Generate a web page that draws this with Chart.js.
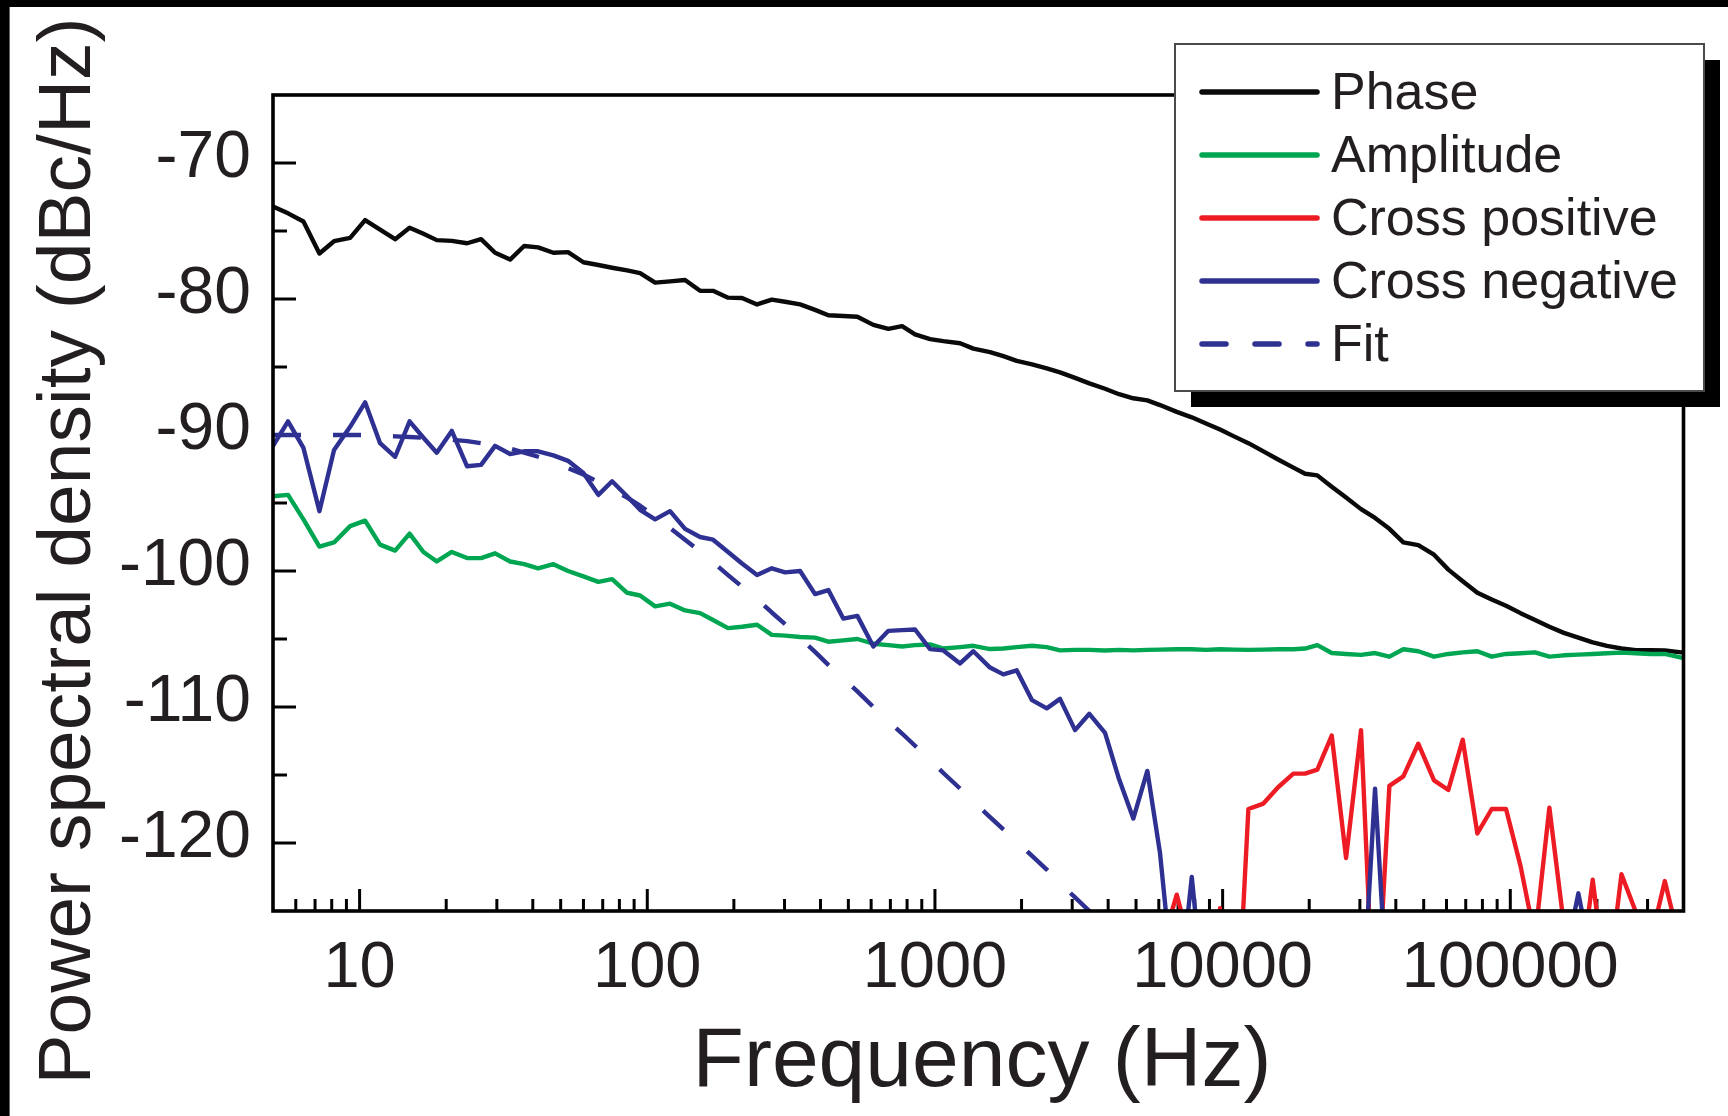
<!DOCTYPE html>
<html>
<head>
<meta charset="utf-8">
<title>Power spectral density</title>
<script src="https://cdn.jsdelivr.net/npm/chart.js@4.4.1/dist/chart.umd.min.js"></script>
<style>
  html, body { margin: 0; padding: 0; background: #fff; }
  canvas { display: block; }
</style>
</head>
<body>
<canvas id="psd" width="1728" height="1116"></canvas>
<script>
// Frequency grid (Hz), shared by all traces
const freqHz = [
  5, 5.64, 6.38, 7.25, 8.15, 9.27, 10.45, 11.78, 13.29, 14.92,
  16.67, 18.55, 20.91, 23.64, 26.44, 29.58, 33.36, 37.31, 41.74, 47.16,
  53.03, 59.96, 67.6, 75.46, 85.1, 94.4, 106.5, 120, 135.3, 152.6,
  169.3, 190.9, 213.5, 240.8, 270.9, 301.3, 339.8, 383, 426, 480.1,
  537.4, 610.8, 688.9, 768.6, 852.7, 961.6, 1069.6, 1223, 1360, 1554,
  1729, 1924, 2175, 2447, 2721, 3069, 3441, 3902, 4364, 4892,
  5473, 6059, 6926, 7811, 8755, 9795, 10955, 12290, 13860, 15590,
  17620, 19350, 21340, 23950, 26860, 30280, 33870, 37990, 42480, 47870,
  54300, 60900, 68340, 76830, 86180, 96640, 108550, 121900, 136700, 153500,
  172400, 193400, 216800, 243500, 273400, 306900, 344400, 400000
];

// Phase noise PSD (dBc/Hz)
const phaseDb = [
  -73.2, -73.7, -74.3, -76.65, -75.75, -75.5, -74.2, -74.9, -75.6, -74.76,
  -75.2, -75.67, -75.73, -75.9, -75.6, -76.6, -77.1, -76.1, -76.2, -76.6,
  -76.55, -77.3, -77.5, -77.7, -77.9, -78.1, -78.8, -78.7, -78.6, -79.4,
  -79.4, -79.9, -79.93, -80.4, -80.05, -80.2, -80.4, -80.8, -81.2, -81.25,
  -81.3, -81.9, -82.2, -82.0, -82.6, -82.95, -83.1, -83.25, -83.65, -83.9,
  -84.2, -84.55, -84.8, -85.1, -85.4, -85.8, -86.2, -86.6, -87.0, -87.3,
  -87.45, -87.8, -88.3, -88.7, -89.15, -89.6, -90.1, -90.6, -91.2, -91.8,
  -92.4, -92.85, -92.97, -93.8, -94.6, -95.45, -96.1, -96.9, -97.9, -98.1,
  -98.8, -99.9, -100.75, -101.6, -102.1, -102.55, -103.1, -103.6, -104.1, -104.55,
  -104.9, -105.25, -105.5, -105.7, -105.83, -105.83, -105.85, -106.0
];

// Amplitude noise PSD (dBc/Hz)
const amplitudeDb = [
  -94.5, -94.4, -96.2, -98.2, -97.9, -96.7, -96.3, -98.06, -98.5, -97.25,
  -98.6, -99.3, -98.6, -99.05, -99.05, -98.7, -99.3, -99.5, -99.8, -99.5,
  -100.0, -100.4, -100.8, -100.6, -101.6, -101.8, -102.6, -102.4, -102.9, -103.1,
  -103.6, -104.2, -104.1, -103.95, -104.7, -104.75, -104.85, -104.9, -105.2, -105.1,
  -105.0, -105.35, -105.45, -105.55, -105.45, -105.4, -105.7, -105.6, -105.5, -105.74,
  -105.7, -105.6, -105.5, -105.6, -105.84, -105.8, -105.8, -105.85, -105.8, -105.84,
  -105.8, -105.78, -105.75, -105.75, -105.8, -105.75, -105.78, -105.8, -105.78, -105.75,
  -105.75, -105.7, -105.45, -106.03, -106.1, -106.17, -106.03, -106.3, -105.75, -105.9,
  -106.3, -106.1, -105.98, -105.9, -106.3, -106.1, -106.05, -105.98, -106.3, -106.2,
  -106.15, -106.1, -106.05, -106.0, -106.05, -106.1, -106.1, -106.4
];

// Positive part of the cross spectrum (dBc/Hz); values below -125 fall off the axis
const crossPositiveDb = [
  -135, -135, -135, -135, -135, -135, -135, -135, -135, -135,
  -135, -135, -135, -135, -135, -135, -135, -135, -135, -135,
  -135, -135, -135, -135, -135, -135, -135, -135, -135, -135,
  -135, -135, -135, -135, -135, -135, -135, -135, -135, -135,
  -135, -135, -135, -135, -135, -135, -135, -135, -135, -135,
  -135, -135, -135, -135, -135, -135, -135, -135, -135, -135,
  -135, -128, -123.8, -128, -135, -124.8, -138, -117.5, -117.1, -115.9,
  -114.9, -114.9, -114.6, -112.1, -121.1, -111.7, -135, -115.8, -115.1, -112.7,
  -115.4, -116.1, -112.4, -119.3, -117.5, -117.5, -121.7, -127, -117.4, -126,
  -131, -122.7, -131, -122.3, -125.1, -127.3, -122.8, -128.5
];

// Negative part of the cross spectrum (dBc/Hz)
const crossNegativeDb = [
  -90.8, -89.0, -90.95, -95.6, -91.1, -89.4, -87.6, -90.6, -91.6, -89.0,
  -90.2, -91.3, -89.7, -92.3, -92.2, -90.8, -91.4, -91.2, -91.2, -91.5,
  -91.9, -92.8, -94.4, -93.4, -94.5, -95.5, -96.2, -95.6, -96.9, -97.5,
  -97.7, -98.6, -99.45, -100.3, -99.8, -100.1, -100.0, -101.7, -101.4, -103.5,
  -103.3, -105.55, -104.4, -104.35, -104.3, -105.74, -105.84, -106.8, -105.9, -107.1,
  -107.6, -107.3, -109.5, -110.1, -109.4, -111.7, -110.5, -111.9, -115.3, -118.2,
  -114.7, -120.75, -133, -122.5, -133, -135, -135, -135, -135, -135,
  -135, -135, -135, -135, -135, -134, -116.0, -134, -135, -135,
  -135, -135, -135, -135, -135, -135, -135, -135, -135, -129,
  -123.7, -129, -135, -135, -135, -135, -135, -135
];

// Single-pole fit to the negative cross spectrum (dBc/Hz)
const fitDb = [
  -90.0, -90.0, -90.0, -90.0, -90.0, -90.0, -90.0, -90.05, -90.1, -90.15,
  -90.2, -90.25, -90.35, -90.45, -90.6, -90.75, -91.0, -91.3, -91.6, -91.95,
  -92.45, -92.9, -93.45, -94.0, -94.6, -95.2, -96.0, -96.85, -97.7, -98.55,
  -99.35, -100.3, -101.15, -102.05, -103.05, -103.9, -104.95, -105.95, -106.9, -107.9,
  -108.85, -110.0, -111.05, -111.95, -112.85, -113.9, -114.85, -116.0, -116.95, -118.1,
  -119.0, -119.9, -120.95, -121.95, -122.95, -124.0, -125.0, -126.1, null, null,
  null, null, null, null, null, null, null, null, null, null,
  null, null, null, null, null, null, null, null, null, null,
  null, null, null, null, null, null, null, null, null, null,
  null, null, null, null, null, null, null, null
];

const xTickValues = [10, 100, 1000, 10000, 100000];
const xTickLabels = ['10', '100', '1000', '10000', '100000'];
const yTickValues = [-120, -110, -100, -90, -80, -70];
const yTickLabels = ['-120', '-110', '-100', '-90', '-80', '-70'];
const seriesNames = ['Phase', 'Amplitude', 'Cross positive', 'Cross negative', 'Fit'];

const FONT = "'Liberation Sans', Arial, Helvetica, sans-serif";
const INK = '#231f20';

const toPoints = (vals) => freqHz.map((f, i) => ({ x: f, y: vals[i] }));

// Background, black edge bands, inward ticks, box frame, legend and axis titles
const decorations = {
  id: 'decorations',
  beforeDraw(chart) {
    const c = chart.ctx;
    c.save();
    c.fillStyle = '#ffffff';
    c.fillRect(0, 0, chart.width, chart.height);
    c.fillStyle = '#000000';
    c.fillRect(0, 0, chart.width, 7);
    c.fillRect(0, 0, 9.6, chart.height);
    c.restore();
  },
  beforeDatasetsDraw(chart) {
    const { ctx: c, chartArea: a, scales: { x, y } } = chart;
    c.save();
    c.strokeStyle = '#000';
    c.lineWidth = 3;
    c.lineCap = 'butt';
    for (let e = 0; e <= 5; e++) {
      for (let m = 1; m <= 9; m++) {
        const v = m * Math.pow(10, e);
        if (v <= x.min * 1.001 || v >= x.max * 0.999) continue;
        const px = x.getPixelForValue(v);
        const len = m === 1 ? 22 : 12;
        c.beginPath();
        c.moveTo(px, a.bottom);
        c.lineTo(px, a.bottom - len);
        c.stroke();
      }
    }
    for (let v = -120; v <= -70; v += 5) {
      const py = y.getPixelForValue(v);
      const len = v % 10 === 0 ? 23 : 14;
      c.beginPath();
      c.moveTo(a.left, py);
      c.lineTo(a.left + len, py);
      c.stroke();
    }
    c.restore();
  },
  afterDatasetsDraw(chart) {
    const { ctx: c, chartArea: a } = chart;
    c.save();
    c.strokeStyle = '#000';
    c.lineWidth = 3.6;
    c.strokeRect(a.left, a.top, a.right - a.left, a.bottom - a.top);
    c.restore();
  },
  afterDraw(chart) {
    const c = chart.ctx;
    c.save();
    // legend box with drop shadow
    const bx = 1175, by = 44, bw = 529, bh = 347;
    c.fillStyle = '#000';
    c.fillRect(bx + 16, by + 16, bw, bh);
    c.fillStyle = '#fff';
    c.fillRect(bx, by, bw, bh);
    c.strokeStyle = '#4a4a4a';
    c.lineWidth = 2;
    c.strokeRect(bx, by, bw, bh);

    chart.data.datasets.forEach((ds, i) => {
      const base = 109 + 63 * i;
      const ly = base - 17;
      c.strokeStyle = ds.borderColor;
      c.lineWidth = 5.5;
      c.lineCap = 'round';
      c.setLineDash(ds.borderDash ? [24, 29] : []);
      c.beginPath();
      c.moveTo(1202, ly);
      c.lineTo(1317, ly);
      c.stroke();
      c.setLineDash([]);
      c.fillStyle = INK;
      c.font = `52px ${FONT}`;
      c.textAlign = 'left';
      c.textBaseline = 'alphabetic';
      c.fillText(seriesNames[i], 1331, base);
    });

    // axis titles
    c.fillStyle = INK;
    c.textAlign = 'center';
    c.textBaseline = 'alphabetic';
    c.font = `84px ${FONT}`;
    c.fillText('Frequency (Hz)', 982, 1086);
    c.translate(90, 551);
    c.rotate(-Math.PI / 2);
    c.font = `75px ${FONT}`;
    c.fillText('Power spectral density (dBc/Hz)', 0, 0);
    c.restore();
  }
};

const common = {
  pointRadius: 0,
  pointHoverRadius: 0,
  borderWidth: 4.4,
  tension: 0,
  fill: false,
  clip: 0,
  borderJoinStyle: 'round',
  borderCapStyle: 'butt'
};

new Chart(document.getElementById('psd'), {
  type: 'line',
  data: {
    datasets: [
      { ...common, label: seriesNames[0], data: toPoints(phaseDb), borderColor: '#0a0a0a', order: 5 },
      { ...common, label: seriesNames[1], data: toPoints(amplitudeDb), borderColor: '#00a651', order: 4 },
      { ...common, label: seriesNames[2], data: toPoints(crossPositiveDb), borderColor: '#ed1c24', order: 3 },
      { ...common, label: seriesNames[3], data: toPoints(crossNegativeDb), borderColor: '#2e3192', order: 2 },
      { ...common, label: seriesNames[4], data: toPoints(fitDb), borderColor: '#2e3192', borderDash: [28, 32], order: 1 }
    ]
  },
  options: {
    responsive: false,
    animation: false,
    devicePixelRatio: 1,
    events: [],
    layout: { padding: { left: 0, right: 44.5, top: 95, bottom: 0 } },
    plugins: { legend: { display: false }, tooltip: { enabled: false } },
    scales: {
      x: {
        type: 'logarithmic',
        min: 5,
        max: 400000,
        grid: { display: false, drawTicks: false },
        border: { display: false },
        afterBuildTicks(scale) { scale.ticks = xTickValues.map(v => ({ value: v })); },
        afterFit(scale) { scale.height = 205; },
        ticks: {
          autoSkip: false,
          maxRotation: 0,
          minRotation: 0,
          padding: 19,
          color: INK,
          font: { family: FONT, size: 65 },
          callback: (v) => xTickLabels[xTickValues.indexOf(v)]
        }
      },
      y: {
        type: 'linear',
        min: -125,
        max: -65,
        grid: { display: false, drawTicks: false },
        border: { display: false },
        afterBuildTicks(scale) { scale.ticks = yTickValues.map(v => ({ value: v })); },
        afterFit(scale) { scale.width = 273; },
        ticks: {
          padding: 22,
          labelOffset: -4,
          color: INK,
          font: { family: FONT, size: 66 },
          callback: (v) => yTickLabels[yTickValues.indexOf(v)]
        }
      }
    }
  },
  plugins: [decorations]
});
</script>
</body>
</html>
